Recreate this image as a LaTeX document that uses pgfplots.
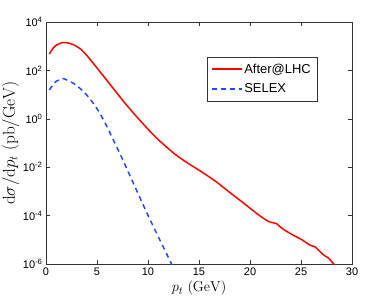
\documentclass[border=0pt]{standalone}
\usepackage[no-math]{fontspec}
\setmainfont{Liberation Sans}
\usepackage{pgfplots}
\pgfplotsset{compat=1.18}
\definecolor{myblue}{RGB}{40,70,255}
\begin{document}
\begin{tikzpicture}
\begin{semilogyaxis}[
  name=ax,
  scale only axis,
  width=306bp, height=242bp,
  xmin=0, xmax=30, ymin=1e-6, ymax=1e4,
  xtick={0,5,10,15,20,25,30},
  ytick={1e-6,1e-4,1e-2,1,1e2,1e4},
  yticklabels={10\textsuperscript{-6},10\textsuperscript{-4},10\textsuperscript{-2},10\textsuperscript{0},10\textsuperscript{2},10\textsuperscript{4}},
  xticklabels={0,5,10,15,20,25,30},
  yminorticks=false,
  tick align=inside,
  major tick length=4bp,
  tick style={black!80, line width=0.5pt},
  axis line style={black!80, line width=0.7pt},
  ticklabel style={font=\fontsize{11}{13}\selectfont},
  xlabel={$p_t\ \mathrm{(GeV)}$},
  ylabel={$\mathrm{d}\sigma/\mathrm{d}p_t\ \mathrm{(pb/GeV)}$},
  xlabel style={font=\fontsize{15.5}{17}\selectfont, yshift=1bp},
  ylabel style={font=\fontsize{16.5}{18}\selectfont, yshift=-3bp},
  legend style={at={(0.525,0.857)}, anchor=north west, draw=black!80,
    font=\fontsize{13}{15}\selectfont, row sep=5bp, inner xsep=4bp, inner ysep=5bp},
  legend cell align=left,
  legend image code/.code={\draw[#1, line width=1.5pt] (0bp,0bp) -- (30bp,0bp);},
]
\addplot[red, line width=1.5pt, smooth, tension=0.3] coordinates {
(0.33,478.6) (0.7,831.8) (1.0,1096) (1.6,1413) (2.2,1349) (2.8,1096) (3.4,758.6)
(4.0,416.9) (4.64,195.0) (5.3,87.1) (5.95,39.8) (6.6,17.8) (7.6,5.25) (8.4,2.09)
(9.2,0.871) (10.2,0.302) (11.0,0.138) (11.8,0.0692) (12.6,0.0355) (13.46,0.0195)
(14.3,0.0115) (15.1,0.00708) (16.0,0.00398) (16.9,0.00214) (17.7,0.00115)
(18.5,6.31e-4) (19.3,3.47e-4) (20.2,1.74e-4) (21.0,9.55e-5) (21.8,5.75e-5)
(22.3,5.01e-5) (22.6,4.68e-5) (23.0,3.31e-5) (23.4,2.51e-5) (24.2,1.58e-5)
(25.1,1e-5) (25.8,6.31e-6) (26.4,5.01e-6) (26.7,3.80e-6) (27.2,2.40e-6)
(27.7,1.74e-6) (28.0,1.26e-6) (28.2,1e-6) (28.5,7.9e-7)
};
\addlegendentry{After@LHC}
\addplot[myblue, line width=1.5pt, dash pattern=on 5bp off 4bp, smooth, tension=0.3] coordinates {
(0.33,15.5) (0.7,26.3) (1.0,35.5) (1.7,45.7) (2.68,29.5) (3.33,18.2) (4.0,9.55)
(4.64,4.37) (5.29,1.66) (5.95,0.501) (6.5,0.166) (6.93,0.0692) (7.58,0.0182)
(8.56,0.00219) (9.4,3.63e-4) (10.2,6.76e-5) (11.2,9.12e-6) (12.16,1.35e-6)
(12.3,1e-6) (12.4,7.9e-7)
};
\addlegendentry{SELEX}
\end{semilogyaxis}
\pgfresetboundingbox
\path[use as bounding box] ([xshift=-46bp,yshift=-38bp]ax.south west) rectangle ([xshift=22bp,yshift=22bp]ax.north east);
\end{tikzpicture}
\end{document}
